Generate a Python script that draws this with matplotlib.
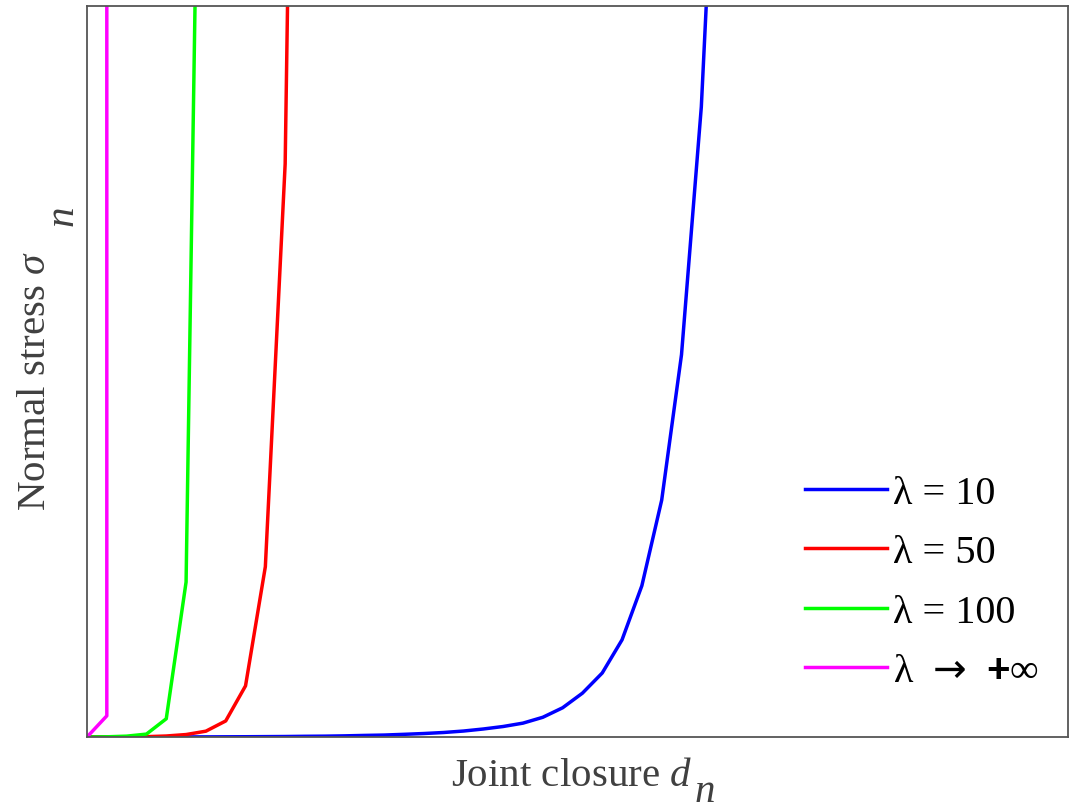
import numpy as np
import matplotlib.pyplot as plt

plt.rcParams['font.family'] = ['Liberation Serif', 'DejaVu Serif']
plt.rcParams['mathtext.fontset'] = 'custom'
plt.rcParams['mathtext.rm'] = 'Liberation Serif'
plt.rcParams['mathtext.it'] = 'Liberation Serif:italic'
plt.rcParams['mathtext.bf'] = 'Liberation Sans:bold'
plt.rcParams['mathtext.sf'] = 'DejaVu Sans'

# normalised joint closure / normal stress samples for each lambda
x_step = 0.02

y_lam10 = [0, 0.00001, 0.00003, 0.00005, 0.0001, 0.00014, 0.0002, 0.0003,
           0.0004, 0.00055, 0.0007, 0.001, 0.0012, 0.0016, 0.0022, 0.0027,
           0.0037, 0.0048, 0.0062, 0.0082, 0.011, 0.0144, 0.019, 0.027,
           0.040, 0.060, 0.0876, 0.133, 0.207, 0.324, 0.523, 0.862, 1.42]
y_lam50 = [0, 0.00005, 0.0002, 0.0005, 0.0014, 0.0034, 0.008, 0.022,
           0.070, 0.233, 0.784, 2.6]
y_lam100 = [0, 0.0003, 0.0012, 0.004, 0.025, 0.212, 1.96]
x_inf = [0, 0.02, 0.02]
y_inf = [0, 0.029, 1.5]

labels = ['λ = 10', 'λ = 50', 'λ = 100',
          'λ  $\\mathsf{→}$  $\\mathbf{+}$∞']
colors = ['#0000ff', '#ff0000', '#00ff00', '#ff00ff']

fig = plt.figure(figsize=(10.82, 8.12), dpi=100)
ax = fig.add_axes([0.0804, 0.0911, 0.9066, 0.9003])

series = [y_lam10, y_lam50, y_lam100]
for ys, lab, c in zip(series, labels[:3], colors[:3]):
    xs = np.arange(len(ys)) * x_step
    ax.plot(xs, ys, color=c, linewidth=2.5, label=lab)
ax.plot(x_inf, y_inf, color=colors[3], linewidth=2.5, label=labels[3])

ax.set_xlim(0, 0.99)
ax.set_ylim(0, 1)
ax.set_xticks([])
ax.set_yticks([])
for sp in ax.spines.values():
    sp.set_color('#555555')
    sp.set_linewidth(1.3)

# axis labels with the subscript set low, as in the original figure
txt_col = '#404040'
ax.text(0.494, -0.053, 'Joint closure $\\it{d}$', transform=ax.transAxes,
        ha='center', va='center', fontsize=29.5, color=txt_col)
ax.text(0.63, -0.075, 'n', transform=ax.transAxes, style='italic',
        ha='center', va='center', fontsize=29.5, color=txt_col)
ax.text(-0.053, 0.488, 'Normal stress $\\it{\\sigma}$', transform=ax.transAxes,
        ha='center', va='center', rotation=90, fontsize=29.5, color=txt_col)
ax.text(-0.024, 0.715, 'n', transform=ax.transAxes, style='italic',
        ha='center', va='center', rotation=90, fontsize=29.5, color=txt_col)

ax.legend(loc='center left', bbox_to_anchor=(0.732, 0.2113), frameon=False,
          fontsize=29, handlelength=2.03, handletextpad=0.15,
          labelspacing=0.55, borderpad=0, borderaxespad=0)

fig.savefig('out.png', dpi=100)
